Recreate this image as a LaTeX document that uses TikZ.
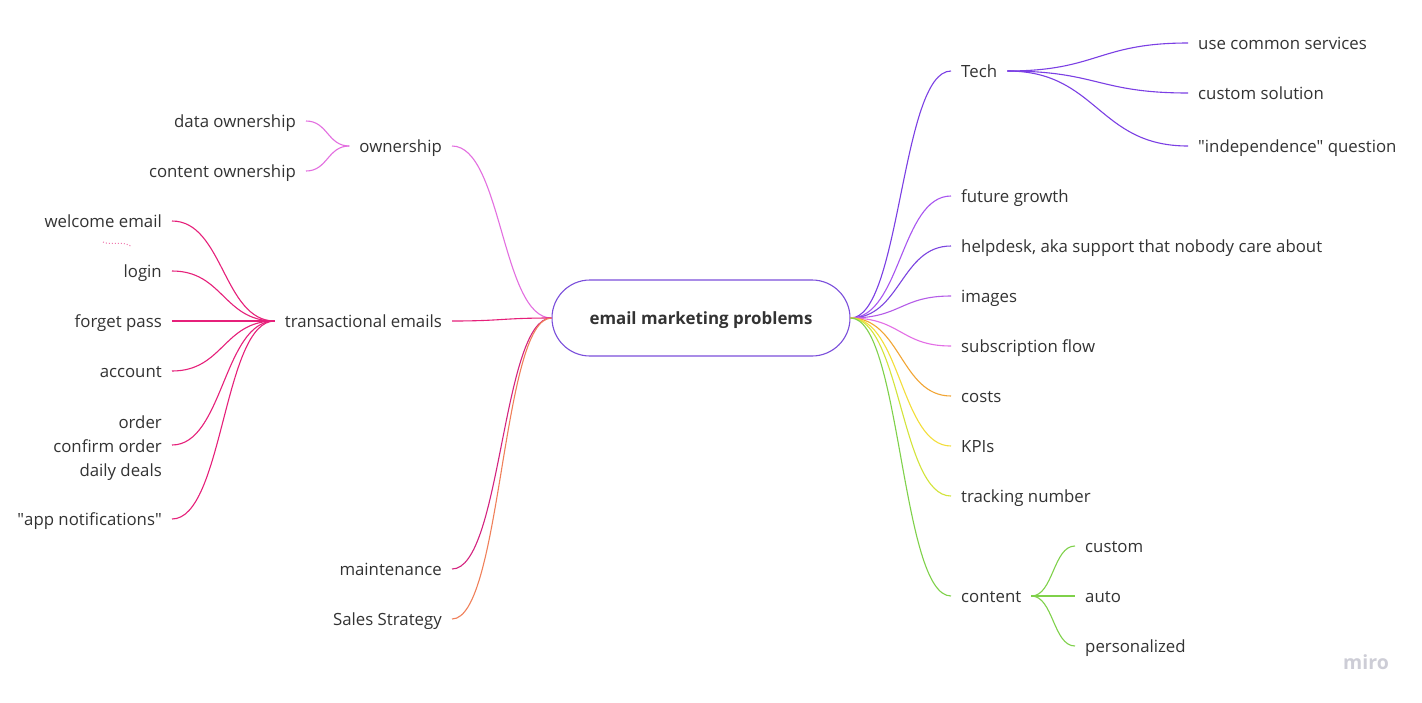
\documentclass[tikz,border=0pt]{standalone}
\usepackage{fontspec}
\setmainfont{Open Sans}
\usetikzlibrary{calc}
\definecolor{txt}{HTML}{333333}
\definecolor{cCenter}{HTML}{7B4FDB}
\definecolor{cOwn}{HTML}{E36FE0}
\definecolor{cTrans}{HTML}{E6207A}
\definecolor{cMaint}{HTML}{D4237F}
\definecolor{cSales}{HTML}{F0805A}
\definecolor{cTech}{HTML}{7B3FE4}
\definecolor{cGrowth}{HTML}{A855F0}
\definecolor{cHelp}{HTML}{7C45E0}
\definecolor{cImg}{HTML}{B55CE8}
\definecolor{cSub}{HTML}{E36EE6}
\definecolor{cCost}{HTML}{F2A533}
\definecolor{cKpi}{HTML}{F3DE3A}
\definecolor{cTrack}{HTML}{D3E43A}
\definecolor{cContent}{HTML}{7FD14A}
\definecolor{cLogo}{HTML}{CDCDD6}
\newcommand\mmlink[3]{\draw[link,#1] let \p1=(#2), \p2=(#3) in (\p1) .. controls ({0.5*(\x1+\x2)},\y1) and ({0.5*(\x1+\x2)},\y2) .. (\p2);}
\begin{document}
\begin{tikzpicture}[x=1pt,y=-1pt,
  lbl/.style={text=txt,font=\fontsize{16.8}{24}\selectfont,inner xsep=10pt,inner ysep=0pt,text height=13pt,text depth=0pt},
  rnode/.style={lbl,anchor=west},
  lnode/.style={lbl,anchor=east},
  link/.style={line width=1.1pt},
  hub/.style={draw=cCenter,line width=1.1pt,fill=white,rounded corners=38pt,minimum width=298pt,minimum height=76pt,text=txt,font=\fontsize{16.9}{20}\selectfont\bfseries,text height=13pt,text depth=0pt}]
\useasboundingbox (0,0) rectangle (1422,702);
\fill[white] (0,0) rectangle (1422,702);
% center
\node[hub] (c) at (701,318) {email marketing problems};
% right side
\node[rnode] (tech) at (951,71) {Tech};
\node[rnode] (grow) at (951,196) {future growth};
\node[rnode] (help) at (951,246) {helpdesk, aka support that nobody care about};
\node[rnode] (img) at (951,296) {images};
\node[rnode] (sub) at (951,346) {subscription flow};
\node[rnode] (cost) at (951,396) {costs};
\node[rnode] (kpi) at (951,446) {KPIs};
\node[rnode] (track) at (951,496) {tracking number};
\node[rnode] (cont) at (951,596) {content};
\node[rnode] (t1) at (1188,43) {use common services};
\node[rnode] (t2) at (1188,93) {custom solution};
\node[rnode] (t3) at (1188,146) {\textquotedbl independence\textquotedbl\ question};
\node[rnode] (k1) at (1075,546) {custom};
\node[rnode] (k2) at (1075,596) {auto};
\node[rnode] (k3) at (1075,646) {personalized};
% left side
\node[lnode] (own) at (452,146) {ownership};
\node[lnode] (trans) at (452,321) {transactional emails};
\node[lnode] (maint) at (452,569) {maintenance};
\node[lnode] (sales) at (452,619) {Sales Strategy};
\node[lnode] (o1) at (306,121) {data ownership};
\node[lnode] (o2) at (306,171) {content ownership};
\node[lnode] (e1) at (172,221) {welcome email};
\node[lnode] (e2) at (172,271) {login};
\node[lnode] (e3) at (172,321) {forget pass};
\node[lnode] (e4) at (172,371) {account};
\node[text=txt,font=\fontsize{16.8}{24}\selectfont,inner xsep=10pt,inner ysep=0pt,align=right,anchor=east] (e5) at (172,448) {order\\confirm order\\daily deals};
\coordinate (e5c) at ($(e5.east)+(0,-3)$);
\node[lnode] (e6) at (172,519) {\textquotedbl app notifications\textquotedbl};
% logo
\node[text=cLogo,font=\fontsize{19.5}{20}\selectfont\bfseries,inner sep=0pt] (logo) at (1366,662) {miro};
% connectors right
\mmlink{cTech}{c.east}{tech.west}
\mmlink{cGrowth}{c.east}{grow.west}
\mmlink{cHelp}{c.east}{help.west}
\mmlink{cImg}{c.east}{img.west}
\mmlink{cSub}{c.east}{sub.west}
\mmlink{cCost}{c.east}{cost.west}
\mmlink{cKpi}{c.east}{kpi.west}
\mmlink{cTrack}{c.east}{track.west}
\mmlink{cContent}{c.east}{cont.west}
\mmlink{cTech}{tech.east}{t1.west}
\mmlink{cTech}{tech.east}{t2.west}
\mmlink{cTech}{tech.east}{t3.west}
\mmlink{cContent}{cont.east}{k1.west}
\mmlink{cContent}{cont.east}{k2.west}
\mmlink{cContent}{cont.east}{k3.west}
% connectors left
\mmlink{cOwn}{c.west}{own.east}
\mmlink{cTrans}{c.west}{trans.east}
\mmlink{cMaint}{c.west}{maint.east}
\mmlink{cSales}{c.west}{sales.east}
\mmlink{cOwn}{own.west}{o1.east}
\mmlink{cOwn}{own.west}{o2.east}
\mmlink{cTrans}{trans.west}{e1.east}
\mmlink{cTrans}{trans.west}{e2.east}
\mmlink{cTrans}{trans.west}{e3.east}
\mmlink{cTrans}{trans.west}{e4.east}
\mmlink{cTrans}{trans.west}{e5c}
\mmlink{cTrans}{trans.west}{e6.east}
% dotted squiggle
\coordinate (q1) at (103,242);
\coordinate (q2) at (132,247);
\draw[cTrans!60,line width=1pt,dotted] (q1) .. controls (112,246) and (124,240) .. (q2);
\end{tikzpicture}
\end{document}
